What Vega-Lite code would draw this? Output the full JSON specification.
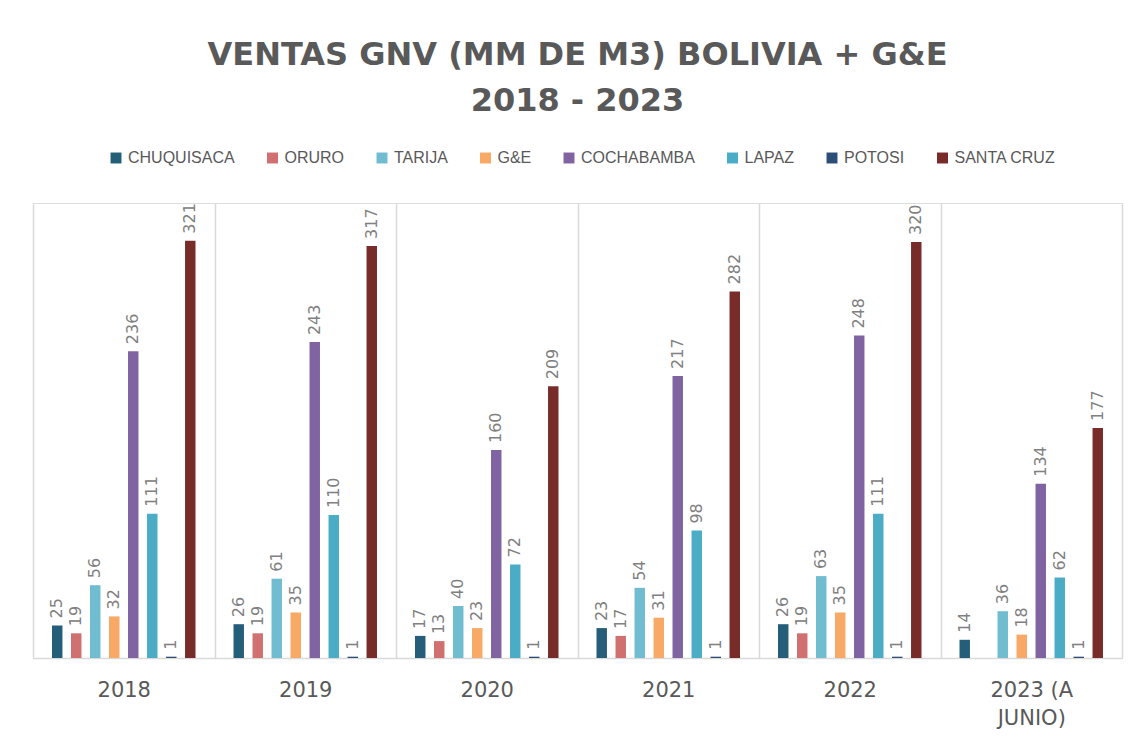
{
  "$schema": "https://vega.github.io/schema/vega-lite/v6.json",
  "width": 1089,
  "height": 455,
  "autosize": {"type": "none"},
  "padding": {"left": 33, "top": 203, "right": 15, "bottom": 88},
  "background": "white",
  "title": {
    "text": ["VENTAS GNV (MM DE M3) BOLIVIA + G&E", "2018 - 2023"],
    "fontSize": 32,
    "font": "DejaVu Sans",
    "fontWeight": "bold",
    "color": "#595959",
    "lineHeight": 46,
    "anchor": "middle",
    "offset": 32
  },
  "data": {
    "values": [
      {"year": "2018", "prov": "CHUQUISACA", "v": 25},
      {"year": "2018", "prov": "ORURO", "v": 19},
      {"year": "2018", "prov": "TARIJA", "v": 56},
      {"year": "2018", "prov": "G&E", "v": 32},
      {"year": "2018", "prov": "COCHABAMBA", "v": 236},
      {"year": "2018", "prov": "LAPAZ", "v": 111},
      {"year": "2018", "prov": "POTOSI", "v": 1},
      {"year": "2018", "prov": "SANTA CRUZ", "v": 321},
      {"year": "2019", "prov": "CHUQUISACA", "v": 26},
      {"year": "2019", "prov": "ORURO", "v": 19},
      {"year": "2019", "prov": "TARIJA", "v": 61},
      {"year": "2019", "prov": "G&E", "v": 35},
      {"year": "2019", "prov": "COCHABAMBA", "v": 243},
      {"year": "2019", "prov": "LAPAZ", "v": 110},
      {"year": "2019", "prov": "POTOSI", "v": 1},
      {"year": "2019", "prov": "SANTA CRUZ", "v": 317},
      {"year": "2020", "prov": "CHUQUISACA", "v": 17},
      {"year": "2020", "prov": "ORURO", "v": 13},
      {"year": "2020", "prov": "TARIJA", "v": 40},
      {"year": "2020", "prov": "G&E", "v": 23},
      {"year": "2020", "prov": "COCHABAMBA", "v": 160},
      {"year": "2020", "prov": "LAPAZ", "v": 72},
      {"year": "2020", "prov": "POTOSI", "v": 1},
      {"year": "2020", "prov": "SANTA CRUZ", "v": 209},
      {"year": "2021", "prov": "CHUQUISACA", "v": 23},
      {"year": "2021", "prov": "ORURO", "v": 17},
      {"year": "2021", "prov": "TARIJA", "v": 54},
      {"year": "2021", "prov": "G&E", "v": 31},
      {"year": "2021", "prov": "COCHABAMBA", "v": 217},
      {"year": "2021", "prov": "LAPAZ", "v": 98},
      {"year": "2021", "prov": "POTOSI", "v": 1},
      {"year": "2021", "prov": "SANTA CRUZ", "v": 282},
      {"year": "2022", "prov": "CHUQUISACA", "v": 26},
      {"year": "2022", "prov": "ORURO", "v": 19},
      {"year": "2022", "prov": "TARIJA", "v": 63},
      {"year": "2022", "prov": "G&E", "v": 35},
      {"year": "2022", "prov": "COCHABAMBA", "v": 248},
      {"year": "2022", "prov": "LAPAZ", "v": 111},
      {"year": "2022", "prov": "POTOSI", "v": 1},
      {"year": "2022", "prov": "SANTA CRUZ", "v": 320},
      {"year": "2023 (A JUNIO)", "prov": "CHUQUISACA", "v": 14},
      {"year": "2023 (A JUNIO)", "prov": "TARIJA", "v": 36},
      {"year": "2023 (A JUNIO)", "prov": "G&E", "v": 18},
      {"year": "2023 (A JUNIO)", "prov": "COCHABAMBA", "v": 134},
      {"year": "2023 (A JUNIO)", "prov": "LAPAZ", "v": 62},
      {"year": "2023 (A JUNIO)", "prov": "POTOSI", "v": 1},
      {"year": "2023 (A JUNIO)", "prov": "SANTA CRUZ", "v": 177}
    ]
  },
  "encoding": {
    "x": {
      "field": "year",
      "type": "nominal",
      "sort": null,
      "scale": {"paddingInner": 0, "paddingOuter": 0},
      "axis": {
        "title": null,
        "labelAngle": 0,
        "labelFontSize": 21,
        "labelFont": "DejaVu Sans",
        "labelColor": "#595959",
        "labelPadding": 21,
        "labelLineHeight": 28,
        "labelBaseline": "top",
        "labelExpr": "datum.label == '2023 (A JUNIO)' ? ['2023 (A', 'JUNIO)'] : datum.label",
        "ticks": false,
        "tickBand": "extent",
        "grid": true,
        "gridColor": "#D9D9D9",
        "gridWidth": 1.5,
        "domainColor": "#D9D9D9",
        "domainWidth": 1.5
      }
    },
    "xOffset": {
      "field": "prov",
      "type": "nominal",
      "scale": {
        "domain": ["CHUQUISACA", "ORURO", "TARIJA", "G&E", "COCHABAMBA", "LAPAZ", "POTOSI", "SANTA CRUZ"],
        "paddingInner": 0.45,
        "paddingOuter": 1.19
      }
    },
    "y": {
      "field": "v",
      "type": "quantitative",
      "scale": {"domain": [0, 350], "nice": false},
      "axis": null
    }
  },
  "layer": [
    {
      "mark": {"type": "bar"},
      "encoding": {
        "color": {
          "field": "prov",
          "type": "nominal",
          "scale": {
            "domain": ["CHUQUISACA", "ORURO", "TARIJA", "G&E", "COCHABAMBA", "LAPAZ", "POTOSI", "SANTA CRUZ"],
            "range": ["#255E79", "#D07070", "#70BCD1", "#F8A965", "#8064A2", "#4BACC6", "#2C4D75", "#772C2A"]
          },
          "legend": {
            "title": null,
            "orient": "none",
            "legendX": 75,
            "legendY": -53,
            "direction": "horizontal",
            "symbolType": "square",
            "symbolSize": 120,
            "symbolStrokeWidth": 0,
            "labelFontSize": 16,
            "labelFont": "Liberation Sans",
            "labelColor": "#595959",
            "columnPadding": 29.5,
            "labelOffset": 4
          }
        }
      }
    },
    {
      "mark": {
        "type": "text",
        "angle": 270,
        "align": "left",
        "baseline": "middle",
        "dx": 7,
        "fontSize": 16,
        "font": "DejaVu Sans",
        "color": "#808080"
      },
      "encoding": {
        "text": {"field": "v", "type": "quantitative"}
      }
    }
  ]
}
